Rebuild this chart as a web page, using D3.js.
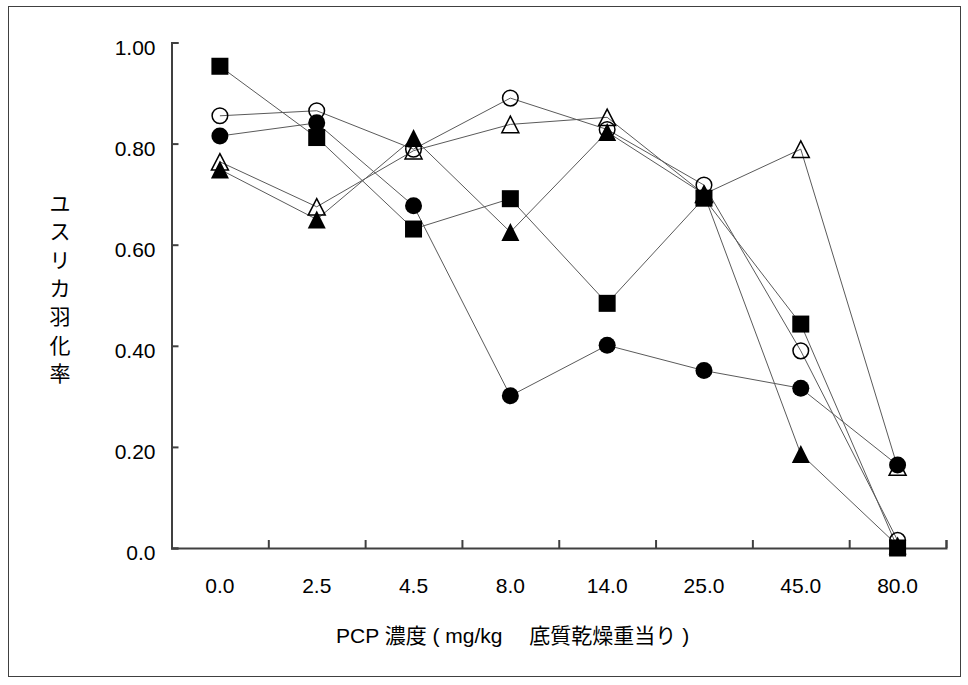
<!DOCTYPE html>
<html><head><meta charset="utf-8">
<script src="https://cdn.jsdelivr.net/npm/d3@7"></script>
<style>
html,body{margin:0;padding:0;background:#fff;}
text{font-family:"Liberation Sans",Arial,"Noto Sans CJK JP",sans-serif;fill:#000;}
</style></head>
<body><svg id="c" width="968" height="685"></svg>
<script>
const categories = ["0.0","2.5","4.5","8.0","14.0","25.0","45.0","80.0"];
const yTicks = [0, 0.2, 0.4, 0.6, 0.8, 1.0];
const openCircle     = [0.855,0.865,0.789,0.890,0.828,0.718,0.390,0.015];
const openTriangle   = [0.764,0.675,0.786,0.838,0.852,0.700,0.789,0.160];
const filledTriangle = [0.749,0.650,0.811,0.625,0.823,0.700,0.186,0.005];
const filledCircle   = [0.815,0.841,0.677,0.301,0.401,0.351,0.316,0.164];
const filledSquare   = [0.953,0.812,0.631,0.691,0.484,0.692,0.443,0.000];
const yTitle = "ユスリカ羽化率";
const xTitle = "PCP 濃度 ( mg/kg　 底質乾燥重当り )";

const series = [
  {values: openCircle, shape: "circle", filled: false},
  {values: openTriangle, shape: "triangle", filled: false},
  {values: filledTriangle, shape: "triangle", filled: true},
  {values: filledCircle, shape: "circle", filled: true},
  {values: filledSquare, shape: "square", filled: true}
];

const svg = d3.select("#c");
const mLeft = 171.5, mRight = 946, mTop = 42.5, mBottom = 548;
const axisColor = "#404040";

svg.append("rect").attr("x", 8.5).attr("y", 6.5).attr("width", 952).attr("height", 670)
  .attr("fill", "none").attr("stroke", axisColor).attr("stroke-width", 1);

const y = d3.scaleLinear().domain([0, 1]).range([mBottom, mTop]);
const x = d3.scaleBand().domain(categories).range([mLeft, mRight]).padding(0);
const xb = d3.scaleLinear().domain([0, categories.length]).range([mLeft, mRight]);

// y axis
const ya = svg.append("g").attr("transform", `translate(${mLeft},0)`)
  .call(d3.axisLeft(y).tickValues(yTicks).tickSize(-7).tickPadding(16)
    .tickFormat(d => d === 0 ? "0.0" : d3.format(".2f")(d)));
ya.selectAll("path.domain").attr("stroke", axisColor).attr("stroke-width", 2);
ya.selectAll(".tick line").attr("stroke", axisColor).attr("stroke-width", 2);
ya.selectAll(".tick text").attr("font-size", 21).attr("dy", "0.55em")
  .style("font-family", '"Liberation Sans",Arial,sans-serif');

// x axis boundary ticks
const xa = svg.append("g").attr("transform", `translate(0,${mBottom})`)
  .call(d3.axisBottom(xb).tickValues(d3.range(1, categories.length + 1)).tickSize(-8).tickFormat(""));
xa.selectAll("path.domain").attr("stroke", axisColor).attr("stroke-width", 2);
xa.selectAll(".tick line").attr("stroke", axisColor).attr("stroke-width", 2);

// x labels
const xl = svg.append("g").attr("transform", `translate(0,${mBottom})`)
  .call(d3.axisBottom(x).tickSize(0).tickPadding(30));
xl.select("path.domain").remove();
xl.selectAll(".tick text").attr("font-size", 21)
  .style("font-family", '"Liberation Sans",Arial,sans-serif');

// titles
svg.append("text").attr("x", 336).attr("y", 643).attr("text-anchor", "start")
  .attr("font-size", 21).text(xTitle);
const yt = svg.append("text").attr("text-anchor", "middle").attr("font-size", 21);
yTitle.split("").forEach((ch, i) => {
  yt.append("tspan").attr("x", 60).attr("y", 211 + i * 28.3).text(ch);
});

// lines
const line = d3.line().x((d, i) => x(categories[i]) + x.bandwidth() / 2).y(d => y(d));
const lines = svg.append("g");
series.forEach(s => {
  lines.append("path").attr("d", line(s.values)).attr("fill", "none")
    .attr("stroke", "#5a5a5a").attr("stroke-width", 1);
});

// markers
const mk = svg.append("g");
series.forEach(s => {
  s.values.forEach((v, i) => {
    const cx = x(categories[i]) + x.bandwidth() / 2, cy = y(v);
    let el;
    if (s.shape === "circle") {
      el = mk.append("circle").attr("cx", cx).attr("cy", cy).attr("r", s.filled ? 8.5 : 7.8);
    } else if (s.shape === "square") {
      el = mk.append("rect").attr("x", cx - 8.5).attr("y", cy - 8.5).attr("width", 17).attr("height", 17);
    } else {
      const w = s.filled ? 18 : 17, h = s.filled ? 18 : 16.5;
      el = mk.append("path").attr("d", `M${cx},${cy - h / 2}L${cx + w / 2},${cy + h / 2}L${cx - w / 2},${cy + h / 2}Z`);
    }
    if (s.filled) el.attr("fill", "#000");
    else el.attr("fill", "none").attr("stroke", "#000").attr("stroke-width", 1.5);
  });
});
</script></body></html>
